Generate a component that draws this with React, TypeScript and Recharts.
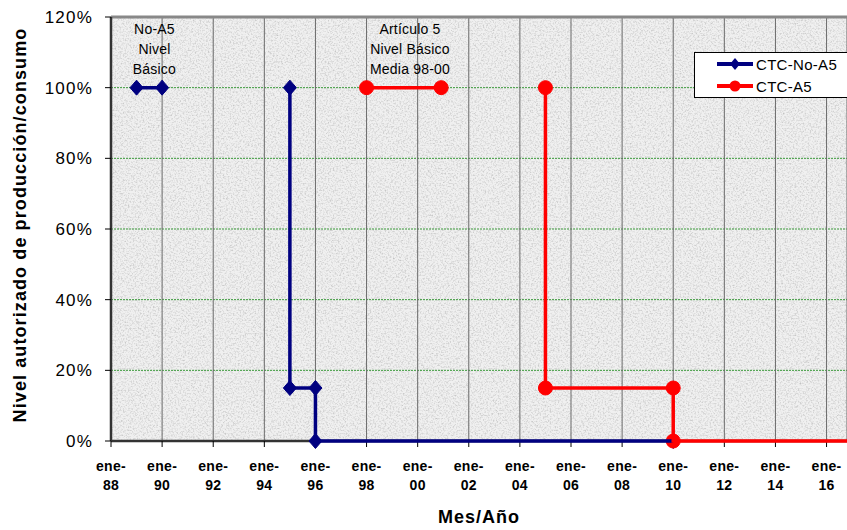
import React from "react";
import {
  LineChart,
  Line,
  XAxis,
  YAxis,
  CartesianGrid,
  ReferenceLine,
  ReferenceDot,
  Legend,
  Label,
} from "recharts";

// x values are years (ene-YY = January of that year), y values in %
const noA5Years = [1989, 1990, 1992.5, 1995, 1995, 1996, 1996, 2010];
const noA5Values = [100, 100, null, 100, 15, 15, 0, 0];

// last point sits on the right edge of the (cropped) plot, no marker there
const a5Years = [1998, 2000.92, 2003, 2005, 2005, 2010, 2010, 2016.8];
const a5Values = [100, 100, null, 100, 15, 15, 0, 0];

const seriesNames = ["CTC-No-A5", "CTC-A5"];

const tickYears = [
  1988, 1990, 1992, 1994, 1996, 1998, 2000, 2002, 2004, 2006, 2008, 2010,
  2012, 2014, 2016,
];
const tickLabels = [
  "88", "90", "92", "94", "96", "98", "00", "02", "04", "06", "08", "10",
  "12", "14", "16",
];
const yTicks = [0, 20, 40, 60, 80, 100, 120];

const notes = [
  { year: 1989.7, value: 100, lines: ["No-A5", "Nivel", "Básico"] },
  { year: 1999.7, value: 100, lines: ["Artículo 5", "Nivel Básico", "Media 98-00"] },
];

const NAVY = "#000080";
const RED = "#ff0000";
const FONT = "'Liberation Sans', Arial, sans-serif";

const toPoints = (years: number[], values: (number | null)[]) =>
  years.map((year, i) => ({ year, value: values[i] }));

const noA5Data = toPoints(noA5Years, noA5Values);
const a5Data = toPoints(a5Years, a5Values);

const Diamond = (props: any) => {
  const { cx, cy, payload, index } = props;
  if (payload.value === null || cx == null || cy == null) return <g key={`d-${index}`} />;
  return (
    <polygon
      key={`d-${index}`}
      points={`${cx},${cy - 7.5} ${cx + 6.5},${cy} ${cx},${cy + 7.5} ${cx - 6.5},${cy}`}
      fill={NAVY}
      stroke={NAVY}
    />
  );
};

const RedDot = (props: any) => {
  const { cx, cy, payload, index } = props;
  if (payload.value === null || cx == null || cy == null || index === a5Data.length - 1)
    return <g key={`r-${index}`} />;
  return <circle key={`r-${index}`} cx={cx} cy={cy} r={7} fill={RED} stroke={RED} />;
};

const YearTick = (props: any) => {
  const { x, y, payload } = props;
  const label = tickLabels[tickYears.indexOf(payload.value)];
  return (
    <text
      x={x}
      y={y}
      textAnchor="middle"
      fontFamily={FONT}
      fontWeight={700}
      fontSize={14}
      letterSpacing={0.3}
      fill="#000"
    >
      <tspan x={x} dy={22}>ene-</tspan>
      <tspan x={x} dy={19}>{label}</tspan>
    </text>
  );
};

const noteLabel = (lines: string[]) => (props: any) => {
  const { viewBox } = props;
  const cx = viewBox.x + viewBox.width / 2;
  const cy = viewBox.y + viewBox.height / 2;
  return (
    <text
      textAnchor="middle"
      fontFamily={FONT}
      fontSize={14}
      letterSpacing={0.2}
      fill="#000"
    >
      {lines.map((l, i) => (
        <tspan key={l} x={cx} y={cy - 54 + i * 20}>
          {l}
        </tspan>
      ))}
    </text>
  );
};

const LegendBox = (props: any) => {
  const items = [...(props.payload || [])].sort(
    (a: any, b: any) => seriesNames.indexOf(a.value) - seriesNames.indexOf(b.value)
  );
  return (
    <div
      style={{
        background: "#fff",
        border: "1px solid #000",
        width: 170,
        height: 46,
        boxSizing: "border-box",
        fontFamily: FONT,
        fontSize: 15,
        letterSpacing: 0.3,
        color: "#000",
      }}
    >
      {items.map((it: any) => (
        <div
          key={it.value}
          style={{ display: "flex", alignItems: "center", height: 22, paddingLeft: 22 }}
        >
          <svg width={36} height={16}>
            <line x1={0} y1={8} x2={36} y2={8} stroke={it.color} strokeWidth={4} />
            {it.color === NAVY ? (
              <polygon points="18,2 23,8 18,14 13,8" fill={NAVY} />
            ) : (
              <circle cx={18} cy={8} r={5.5} fill={RED} />
            )}
          </svg>
          <span style={{ marginLeft: 3 }}>{it.value}</span>
        </div>
      ))}
    </div>
  );
};

export default function App() {
  return (
    <div
      style={{
        position: "absolute",
        left: 0,
        top: 0,
        width: 847,
        height: 530,
        overflow: "hidden",
        background: "#fff",
      }}
    >
      <svg width={0} height={0} style={{ position: "absolute" }}>
        <defs>
          <filter id="grain" x="0" y="0" width="100%" height="100%">
            <feTurbulence type="fractalNoise" baseFrequency="0.6" numOctaves={3} seed={7} />
            <feColorMatrix
              type="matrix"
              values="0 0 0 0 0.5  0 0 0 0 0.5  0 0 0 0 0.5  1.8 0 0 0 -0.8"
            />
          </filter>
          <pattern id="granite" patternUnits="userSpaceOnUse" x={0} y={0} width={847} height={530}>
            <rect width={847} height={530} fill="#f0f0f0" />
            <rect width={847} height={530} fill="#000" filter="url(#grain)" />
          </pattern>
        </defs>
      </svg>
      <LineChart
        width={847}
        height={530}
        margin={{ top: 17, right: 0, bottom: 29, left: 0 }}
        style={{ fontFamily: FONT }}
      >
        <CartesianGrid
          vertical={false}
          fill="url(#granite)"
          fillOpacity={1}
          stroke="#3a9a3a"
          strokeDasharray="2 1"
        />
        <CartesianGrid horizontal={false} stroke="#6a6a6a" />
        <XAxis
          type="number"
          dataKey="year"
          domain={[1988, 2016.8]}
          ticks={tickYears}
          interval={0}
          height={60}
          tickSize={6}
          tickMargin={2}
          tick={<YearTick />}
          axisLine={{ stroke: "#333", strokeWidth: 2.5 }}
          tickLine={{ stroke: "#000" }}
        >
          <Label
            content={(p: any) => (
              <text
                x={p.viewBox.x + p.viewBox.width / 2}
                y={p.viewBox.y + 82}
                textAnchor="middle"
                fontFamily={FONT}
                fontWeight={700}
                fontSize={18}
                letterSpacing={1}
                fill="#000"
              >
                Mes/Año
              </text>
            )}
          />
        </XAxis>
        <YAxis
          type="number"
          domain={[0, 120]}
          ticks={yTicks}
          width={111}
          tickSize={6}
          tickMargin={12}
          tickFormatter={(v: number) => `${v}%`}
          tick={{ fill: "#000", fontSize: 17, letterSpacing: 1.2, fontFamily: FONT }}
          axisLine={{ stroke: "#333", strokeWidth: 2.5 }}
          tickLine={{ stroke: "#000" }}
        >
          <Label
            content={(p: any) => {
              const x = p.viewBox.x + 26;
              const y = p.viewBox.y + p.viewBox.height / 2 - 4;
              return (
                <text
                  x={x}
                  y={y}
                  transform={`rotate(-90, ${x}, ${y})`}
                  textAnchor="middle"
                  fontFamily={FONT}
                  fontWeight={700}
                  fontSize={18}
                  letterSpacing={1.1}
                  fill="#000"
                >
                  Nivel autorizado de producción/consumo
                </text>
              );
            }}
          />
        </YAxis>
        <ReferenceLine y={120} stroke="#888" strokeWidth={3} />
        {notes.map((n) => (
          <ReferenceDot
            key={n.lines[0]}
            x={n.year}
            y={n.value}
            r={0}
            fill="none"
            stroke="none"
            label={noteLabel(n.lines)}
          />
        ))}
        <Line
          data={noA5Data}
          dataKey="value"
          name={seriesNames[0]}
          type="linear"
          stroke={NAVY}
          strokeWidth={3.5}
          dot={Diamond}
          activeDot={false}
          isAnimationActive={false}
          zIndex={700}
        />
        <Line
          data={a5Data}
          dataKey="value"
          name={seriesNames[1]}
          type="linear"
          stroke={RED}
          strokeWidth={3.5}
          dot={RedDot}
          activeDot={false}
          isAnimationActive={false}
          zIndex={710}
        />
        <Legend
          layout="horizontal"
          verticalAlign="middle"
          align="center"
          content={LegendBox}
          wrapperStyle={{ left: 694, top: 52, width: 170, right: "auto", bottom: "auto" }}
        />
      </LineChart>
    </div>
  );
}
